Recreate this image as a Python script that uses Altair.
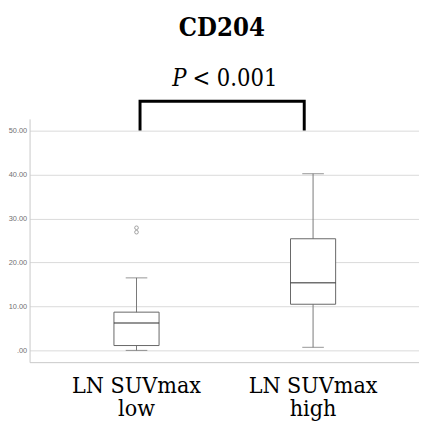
import altair as alt
import pandas as pd

groups = ["LN SUVmax\nlow", "LN SUVmax\nhigh"]
group_pos = [1, 2]
whisker_lo = [0.0, 0.7]
q1 = [1.1, 10.5]
median = [6.25, 15.4]
q3 = [8.7, 25.4]
whisker_hi = [16.5, 40.2]
outlier_group = [1, 1]
outlier_vals = [27.9, 26.9]
y_ticks = [0, 10, 20, 30, 40, 50]
bracket_x = [1.02, 1.02, 1.95, 1.95]
bracket_y = [50.4, 56.7, 56.7, 50.4]

SERIF = "DejaVu Serif Condensed"

box_df = pd.DataFrame({
    "g": groups, "x": group_pos, "lo": whisker_lo, "q1": q1,
    "med": median, "q3": q3, "hi": whisker_hi,
})
out_df = pd.DataFrame({"x": outlier_group, "v": outlier_vals})
br_df = pd.DataFrame({"x": bracket_x, "y": bracket_y, "o": [0, 1, 2, 3]})

xs = alt.Scale(domain=[0.3944, 2.6], nice=False, zero=False, padding=0)
ys = alt.Scale(domain=[-2.68, 52.68], nice=False, zero=False, padding=0)

X = alt.X("x:Q", scale=xs, axis=alt.Axis(labels=False, ticks=False, grid=False,
          title=None, domainColor="#c8c8c8", domainWidth=1))
Y = alt.Y("lo:Q", scale=ys, axis=alt.Axis(
    values=y_ticks, grid=True, gridColor="#d9d9d9", ticks=False,
    labelExpr="datum.value == 0 ? '.00' : format(datum.value, '.2f')",
    labelFontSize=7.5, labelColor="#707070", labelFont="Liberation Sans",
    labelPadding=3, domainColor="#c8c8c8", title=None))

base = alt.Chart(box_df)

whisk = base.mark_rule(color="#777777", strokeWidth=1).encode(x=X, y=Y, y2="hi:Q")
caps_lo = base.mark_tick(color="#666666", size=22, thickness=1, orient="horizontal").encode(
    x=alt.X("x:Q", scale=xs), y=alt.Y("lo:Q", scale=ys))
caps_hi = base.mark_tick(color="#666666", size=22, thickness=1, orient="horizontal").encode(
    x=alt.X("x:Q", scale=xs), y=alt.Y("hi:Q", scale=ys))
box = base.mark_bar(size=46, fill="white", stroke="#666666", strokeWidth=1).encode(
    x=alt.X("x:Q", scale=xs), y=alt.Y("q1:Q", scale=ys), y2="q3:Q")
med = base.mark_tick(color="#333333", size=46, thickness=1.5, orient="horizontal").encode(
    x=alt.X("x:Q", scale=xs), y=alt.Y("med:Q", scale=ys))

outl = alt.Chart(out_df).mark_point(shape="circle", size=14, color="#777777",
                                     strokeWidth=1, filled=False).encode(
    x=alt.X("x:Q", scale=xs), y=alt.Y("v:Q", scale=ys))

bracket = alt.Chart(br_df).mark_line(color="black", strokeWidth=3, strokeJoin="miter",
                                     strokeCap="square").encode(
    x=alt.X("x:Q", scale=xs), y=alt.Y("y:Q", scale=ys), order="o:O")

xlabels = base.mark_text(font=SERIF, fontSize=23.5, lineBreak="\n",
                         lineHeight=24, baseline="alphabetic", align="center",
                         color="black").encode(
    x=alt.X("x:Q", scale=xs), y=alt.value(279), text="g:N")

title = alt.Chart(pd.DataFrame({"t": ["CD204"]})).mark_text(
    font=SERIF, fontSize=26, fontWeight="bold", baseline="alphabetic",
    align="center", color="black").encode(
    x=alt.value(196), y=alt.value(-84), text="t:N")
p_it = alt.Chart(pd.DataFrame({"t": ["P"]})).mark_text(
    font=SERIF, fontSize=24, fontStyle="italic", baseline="alphabetic",
    align="right", color="black").encode(
    x=alt.value(160), y=alt.value(-34), text="t:N")
p_rest = alt.Chart(pd.DataFrame({"t": ["< 0.001"]})).mark_text(
    font=SERIF, fontSize=24, baseline="alphabetic", dx=6,
    align="left", color="black").encode(
    x=alt.value(160), y=alt.value(-34), text="t:N")

chart = alt.layer(whisk, caps_lo, caps_hi, box, med, outl, bracket,
                  xlabels, title, p_it, p_rest).properties(
    width=397, height=248,
    autosize=alt.AutoSizeParams(type="none"),
    padding={"left": 22, "top": 109, "right": 0, "bottom": 59},
).configure_view(stroke=None).configure_axis(domainWidth=1)

chart.save("out.html", embed_options={"renderer": "svg", "actions": False})
